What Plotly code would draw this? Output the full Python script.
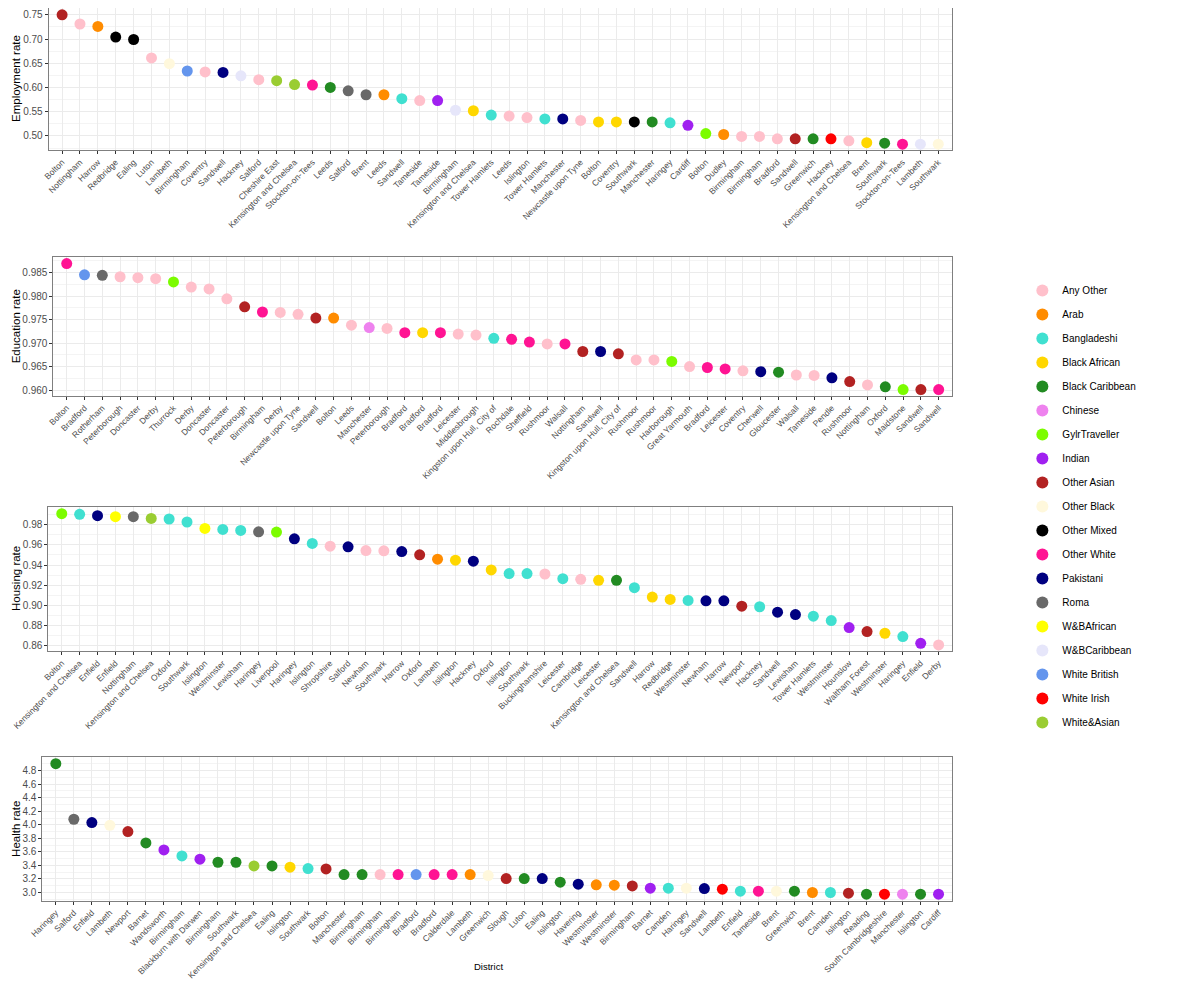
import plotly.graph_objects as go

# Groups and colours
groups = ["Any Other", "Arab", "Bangladeshi", "Black African", "Black Caribbean",
          "Chinese", "GylrTraveller", "Indian", "Other Asian", "Other Black",
          "Other Mixed", "Other White", "Pakistani", "Roma", "W&BAfrican",
          "W&BCaribbean", "White British", "White Irish", "White&Asian"]
group_colors = ["#FFC0CB", "#FF8C00", "#40E0D0", "#FFD700", "#228B22",
                "#EE82EE", "#7CFC00", "#A020F0", "#B22222", "#FFF8DC",
                "#000000", "#FF1493", "#000080", "#696969", "#FFFF00",
                "#E6E6FA", "#6495ED", "#FF0000", "#9ACD32"]

# Employment
emp_district = ["Bolton", "Nottingham", "Harrow", "Redbridge", "Ealing", "Luton", "Lambeth",
                "Birmingham", "Coventry", "Sandwell", "Hackney", "Salford", "Cheshire East",
                "Kensington and Chelsea", "Stockton-on-Tees", "Leeds", "Salford", "Brent",
                "Leeds", "Sandwell", "Tameside", "Tameside", "Birmingham",
                "Kensington and Chelsea", "Tower Hamlets", "Leeds", "Islington",
                "Tower Hamlets", "Manchester", "Newcastle upon Tyne", "Bolton", "Coventry",
                "Southwark", "Manchester", "Haringey", "Cardiff", "Bolton", "Dudley",
                "Birmingham", "Birmingham", "Bradford", "Sandwell", "Greenwich", "Hackney",
                "Kensington and Chelsea", "Brent", "Southwark", "Stockton-on-Tees",
                "Lambeth", "Southwark"]
emp_rate = [0.750, 0.731, 0.726, 0.704, 0.699, 0.661, 0.649, 0.634, 0.632, 0.631,
            0.624, 0.616, 0.614, 0.606, 0.605, 0.600, 0.593, 0.585, 0.585, 0.577,
            0.573, 0.573, 0.553, 0.552, 0.543, 0.541, 0.538, 0.535, 0.535, 0.532,
            0.529, 0.529, 0.529, 0.529, 0.527, 0.522, 0.505, 0.503, 0.499, 0.499,
            0.494, 0.494, 0.494, 0.494, 0.490, 0.486, 0.485, 0.483, 0.483, 0.483]
emp_group = ["Other Asian", "Any Other", "Arab", "Other Mixed", "Other Mixed", "Any Other",
             "Other Black", "White British", "Any Other", "Pakistani", "W&BCaribbean",
             "Any Other", "White&Asian", "White&Asian", "Other White", "Black Caribbean",
             "Roma", "Roma", "Arab", "Bangladeshi", "Any Other", "Indian", "W&BCaribbean",
             "Black African", "Bangladeshi", "Any Other", "Any Other", "Bangladeshi",
             "Pakistani", "Any Other", "Black African", "Black African", "Other Mixed",
             "Black Caribbean", "Bangladeshi", "Indian", "GylrTraveller", "Arab",
             "Any Other", "Any Other", "Any Other", "Other Asian", "Black Caribbean",
             "White Irish", "Any Other", "Black African", "Black Caribbean", "Other White",
             "W&BCaribbean", "Other Black"]

# Education
edu_district = ["Bolton", "Bradford", "Rotherham", "Peterborough", "Doncaster", "Derby",
                "Thurrock", "Derby", "Doncaster", "Doncaster", "Peterborough", "Birmingham",
                "Derby", "Newcastle upon Tyne", "Sandwell", "Bolton", "Leeds", "Manchester",
                "Peterborough", "Bradford", "Bradford", "Bradford", "Leicester",
                "Middlesbrough", "Kingston upon Hull, City of", "Rochdale", "Sheffield",
                "Rushmoor", "Walsall", "Nottingham", "Sandwell", "Kingston upon Hull, City of",
                "Rushmoor", "Rushmoor", "Harborough", "Great Yarmouth", "Bradford",
                "Leicester", "Coventry", "Cherwell", "Gloucester", "Walsall", "Tameside",
                "Pendle", "Rushmoor", "Nottingham", "Oxford", "Maidstone", "Sandwell",
                "Sandwell"]
edu_rate = [0.9869, 0.9845, 0.9844, 0.9841, 0.9839, 0.9837, 0.9830, 0.9819, 0.9815, 0.9794,
            0.9777, 0.9766, 0.9765, 0.9761, 0.9753, 0.9753, 0.9738, 0.9733, 0.9731, 0.9722,
            0.9722, 0.9722, 0.9719, 0.9717, 0.9710, 0.9708, 0.9702, 0.9698, 0.9698, 0.9682,
            0.9682, 0.9677, 0.9664, 0.9664, 0.9661, 0.9650, 0.9648, 0.9645, 0.9641, 0.9639,
            0.9638, 0.9632, 0.9631, 0.9626, 0.9618, 0.9611, 0.9607, 0.9601, 0.9601, 0.9601]
edu_group = ["Other White", "White British", "Roma", "Any Other", "Any Other", "Any Other",
             "GylrTraveller", "Any Other", "Any Other", "Any Other", "Other Asian",
             "Other White", "Any Other", "Any Other", "Other Asian", "Arab", "Any Other",
             "Chinese", "Any Other", "Other White", "Black African", "Other White",
             "Any Other", "Any Other", "Bangladeshi", "Other White", "Other White",
             "Any Other", "Other White", "Other Asian", "Pakistani", "Other Asian",
             "Any Other", "Any Other", "GylrTraveller", "Any Other", "Other White",
             "Other White", "Any Other", "Pakistani", "Black Caribbean", "Any Other",
             "Any Other", "Pakistani", "Other Asian", "Any Other", "Black Caribbean",
             "GylrTraveller", "Other Asian", "Other White"]

# Housing
hou_district = ["Bolton", "Kensington and Chelsea", "Enfield", "Enfield", "Nottingham",
                "Kensington and Chelsea", "Oxford", "Southwark", "Islington", "Westminster",
                "Lewisham", "Haringey", "Liverpool", "Haringey", "Islington", "Shropshire",
                "Salford", "Newham", "Southwark", "Harrow", "Oxford", "Lambeth", "Islington",
                "Hackney", "Oxford", "Islington", "Southwark", "Buckinghamshire", "Leicester",
                "Cambridge", "Leicester", "Kensington and Chelsea", "Sandwell", "Harrow",
                "Redbridge", "Westminster", "Newham", "Harrow", "Newport", "Hackney",
                "Sandwell", "Lewisham", "Tower Hamlets", "Westminster", "Hounslow",
                "Waltham Forest", "Westminster", "Haringey", "Enfield", "Derby"]
hou_rate = [0.9910, 0.9903, 0.9890, 0.9880, 0.9880, 0.9863, 0.9857, 0.9827, 0.9763, 0.9753,
            0.9743, 0.9730, 0.9727, 0.9660, 0.9614, 0.9587, 0.9581, 0.9544, 0.9541, 0.9534,
            0.9501, 0.9458, 0.9448, 0.9438, 0.9351, 0.9315, 0.9315, 0.9311, 0.9265, 0.9258,
            0.9248, 0.9248, 0.9175, 0.9082, 0.9059, 0.9049, 0.9045, 0.9045, 0.8992, 0.8986,
            0.8932, 0.8909, 0.8893, 0.8849, 0.8779, 0.8740, 0.8723, 0.8690, 0.8623, 0.8607]
hou_group = ["GylrTraveller", "Bangladeshi", "Pakistani", "W&BAfrican", "Roma", "White&Asian",
             "Bangladeshi", "Bangladeshi", "W&BAfrican", "Bangladeshi", "Bangladeshi", "Roma",
             "GylrTraveller", "Pakistani", "Bangladeshi", "Any Other", "Pakistani",
             "Any Other", "Any Other", "Pakistani", "Other Asian", "Arab", "Black African",
             "Pakistani", "Black African", "Bangladeshi", "Bangladeshi", "Any Other",
             "Bangladeshi", "Any Other", "Black African", "Black Caribbean", "Bangladeshi",
             "Black African", "Black African", "Bangladeshi", "Pakistani", "Pakistani",
             "Other Asian", "Bangladeshi", "Pakistani", "Pakistani", "Bangladeshi",
             "Bangladeshi", "Indian", "Other Asian", "Black African", "Bangladeshi",
             "Indian", "Any Other"]

# Health
hea_district = ["Haringey", "Salford", "Enfield", "Lambeth", "Newport", "Barnet", "Wandsworth",
                "Birmingham", "Blackburn with Darwen", "Birmingham", "Southwark",
                "Kensington and Chelsea", "Ealing", "Islington", "Southwark", "Bolton",
                "Manchester", "Birmingham", "Birmingham", "Birmingham", "Bradford", "Bradford",
                "Calderdale", "Lambeth", "Greenwich", "Slough", "Luton", "Ealing", "Islington",
                "Havering", "Westminster", "Westminster", "Birmingham", "Barnet", "Camden",
                "Haringey", "Sandwell", "Lambeth", "Enfield", "Tameside", "Brent", "Greenwich",
                "Brent", "Camden", "Islington", "Reading", "South Cambridgeshire",
                "Manchester", "Islington", "Cardiff"]
hea_rate = [4.903, 4.082, 4.033, 3.993, 3.900, 3.733, 3.629, 3.541, 3.492, 3.447,
            3.447, 3.393, 3.393, 3.374, 3.354, 3.349, 3.265, 3.265, 3.265, 3.265,
            3.265, 3.265, 3.265, 3.265, 3.250, 3.206, 3.206, 3.206, 3.152, 3.123,
            3.113, 3.108, 3.098, 3.064, 3.064, 3.064, 3.059, 3.049, 3.019, 3.019,
            3.019, 3.019, 3.000, 3.000, 2.990, 2.975, 2.975, 2.975, 2.975, 2.975]
hea_group = ["Black Caribbean", "Roma", "Pakistani", "Other Black", "Other Asian",
             "Black Caribbean", "Indian", "Bangladeshi", "Indian", "Black Caribbean",
             "Black Caribbean", "White&Asian", "Black Caribbean", "Black African",
             "Bangladeshi", "Other Asian", "Black Caribbean", "Black Caribbean", "Any Other",
             "Other White", "White British", "Other White", "Other White", "Arab",
             "Other Black", "Other Asian", "Black Caribbean", "Pakistani", "Black Caribbean",
             "Pakistani", "Arab", "Arab", "Other Asian", "Indian", "Bangladeshi",
             "Other Black", "Pakistani", "White Irish", "Bangladeshi", "Other White",
             "Other Black", "Black Caribbean", "Arab", "Bangladeshi", "Other Asian",
             "Black Caribbean", "White Irish", "Chinese", "Black Caribbean", "Indian"]

panels = [
    dict(district=emp_district, rate=emp_rate, group=emp_group, title="Employment rate",
         yrange=[0.471, 0.764], dtick=0.05, fmt=".2f", x=[0.0339, 0.7864], y=[0.858, 1.0]),
    dict(district=edu_district, rate=edu_rate, group=edu_group, title="Education rate",
         yrange=[0.9588, 0.9883], dtick=0.005, fmt=".3f", x=[0.0378, 0.7867], y=[0.6123, 0.751]),
    dict(district=hou_district, rate=hou_rate, group=hou_group, title="Housing rate",
         yrange=[0.8547, 0.9976], dtick=0.02, fmt=".2f", x=[0.0336, 0.7867], y=[0.357, 0.501]),
    dict(district=hea_district, rate=hea_rate, group=hea_group, title="Health rate",
         yrange=[2.882, 4.997], dtick=0.2, fmt=".1f", x=[0.0286, 0.7867], y=[0.1075, 0.2507]),
]

font_family = "Liberation Sans, Arial, sans-serif"
fig = go.Figure()

shown = set()
for g, col in zip(groups, group_colors):
    for i, p in enumerate(panels):
        idx = [k for k, gg in enumerate(p["group"]) if gg == g]
        if not idx:
            continue
        suffix = "" if i == 0 else str(i + 1)
        fig.add_trace(go.Scatter(
            x=idx,
            y=[p["rate"][k] for k in idx],
            mode="markers",
            marker=dict(color=col, size=11, line=dict(width=0)),
            name=g,
            legendgroup=g,
            showlegend=g not in shown,
            xaxis="x" + suffix,
            yaxis="y" + suffix,
        ))
        shown.add(g)

layout = dict(
    width=1200,
    height=1000,
    paper_bgcolor="white",
    plot_bgcolor="white",
    margin=dict(l=0, r=0, t=0, b=0),
    font=dict(family=font_family, color="black"),
    legend=dict(
        x=0.8453, y=0.732, xanchor="left", yanchor="top",
        font=dict(size=10, color="black"),
        tracegroupgap=5, itemsizing="constant",
        bgcolor="rgba(0,0,0,0)",
    ),
    showlegend=True,
)

annotations = []
for i, p in enumerate(panels):
    suffix = "" if i == 0 else str(i + 1)
    n = len(p["district"])
    layout["xaxis" + suffix] = dict(
        domain=p["x"], anchor="y" + suffix, range=[-0.75, n - 0.25],
        tickmode="array", tickvals=list(range(n)), ticktext=p["district"],
        tickangle=-45, tickfont=dict(size=8.5, color="#4D4D4D"),
        ticks="outside", ticklen=3, tickcolor="#333333",
        showgrid=True, gridcolor="#EBEBEB", gridwidth=1,
        showline=True, linecolor="#7F7F7F", linewidth=1, mirror=True,
        zeroline=False, automargin=False,
    )
    layout["yaxis" + suffix] = dict(
        domain=p["y"], anchor="x" + suffix, range=p["yrange"],
        dtick=p["dtick"], tick0=0, tickformat=p["fmt"],
        tickfont=dict(size=10, color="#4D4D4D"),
        ticks="outside", ticklen=3, tickcolor="#333333",
        showgrid=True, gridcolor="#EBEBEB", gridwidth=1,
        minor=dict(dtick=p["dtick"] / 2, showgrid=True, gridcolor="#F4F4F4", gridwidth=0.6),
        showline=True, linecolor="#7F7F7F", linewidth=1, mirror=True,
        zeroline=False, automargin=False,
    )
    # y axis title
    annotations.append(dict(
        text=p["title"], xref="paper", yref="paper",
        x=0.0, y=(p["y"][0] + p["y"][1]) / 2, xanchor="left", yanchor="middle",
        textangle=-90, showarrow=False, font=dict(size=11.5, color="black"),
    ))

# x axis title under the last panel
annotations.append(dict(
    text="District", xref="paper", yref="paper", x=0.4, y=0.042,
    xanchor="center", yanchor="middle", showarrow=False,
    font=dict(size=9.5, color="black"),
))

layout["annotations"] = annotations
fig.update_layout(**layout)
fig.write_html("out.html")
